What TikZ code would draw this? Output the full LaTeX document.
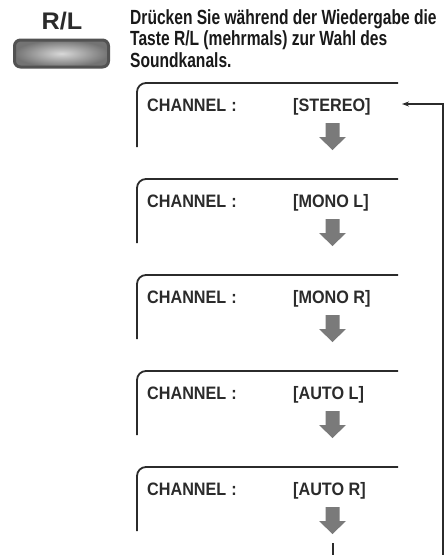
\documentclass[tikz,border=0pt]{standalone}
\usepackage{fontspec}
\usetikzlibrary{arrows.meta}
\setmainfont{Liberation Sans}
\newfontfamily\narrowfont{Liberation Sans}[FakeStretch=0.76]
\newfontfamily\chfont{Liberation Sans}[FakeStretch=0.9]
\newfontfamily\widefont{Liberation Sans}[FakeStretch=1.05]
\definecolor{linegray}{HTML}{2B2B2B}
\definecolor{arrowgray}{HTML}{7A7A7A}
\begin{document}
\begin{tikzpicture}[x=1pt,y=-1pt,
  para/.style={anchor=base west,inner sep=0pt,font=\narrowfont\fontsize{20.5}{21}\selectfont\bfseries,text=black!90},
  chtext/.style={anchor=base west,inner sep=0pt,font=\chfont\fontsize{18}{20}\selectfont\bfseries,text=linegray},
  boxline/.style={draw=linegray,line width=1.8pt,rounded corners=9pt},
  downarrow/.style={fill=arrowgray,draw=none},
  returnline/.style={draw=linegray,line width=1.3pt}
]
\useasboundingbox (0,0) rectangle (444,555);
% R/L button
\node[anchor=base,inner sep=0pt,font=\widefont\fontsize{24}{26}\selectfont\bfseries,text=linegray] (rl) at (62,29) {R/L};
\shade[inner color=black!15,outer color=black!55,draw=black!68,line width=3pt,rounded corners=6pt] (14.5,40) rectangle (108.5,67);
% paragraph
\node[para] (p1) at (130,24) {Drücken Sie während der Wiedergabe die};
\node[para] (p2) at (130,45.5) {Taste R/L (mehrmals) zur Wahl des};
\node[para] (p3) at (130,67) {Soundkanals.};
% boxes
\foreach \i/\val in {0/{[STEREO]},1/{[MONO L]},2/{[MONO R]},3/{[AUTO L]},4/{[AUTO R]}}{
  \pgfmathsetmacro{\t}{83+96*\i}
  \draw[boxline] (137,\t+64) -- (137,\t) -- (398,\t);
  \node[chtext] (ch\i) at (147,\t+28) {CHANNEL\hspace{5pt}:};
  \node[chtext] (v\i) at (293,\t+28) {\val};
  \fill[downarrow] (325.5,\t+40) -- (339.5,\t+40) -- (339.5,\t+54) -- (346,\t+54)
     -- (332.5,\t+67) -- (319,\t+54) -- (325.5,\t+54) -- cycle;
}
% return connector
\coordinate (rtop) at (443,104);
\coordinate (rbot) at (443,555);
\coordinate (rtip) at (402,104);
\coordinate (sa) at (333,543);
\coordinate (sb) at (333,555);
\draw[returnline,-{Stealth[length=7pt,width=5pt]}] (rbot) -- (rtop) -- (rtip);
\draw[returnline] (sa) -- (sb);
\end{tikzpicture}
\end{document}
